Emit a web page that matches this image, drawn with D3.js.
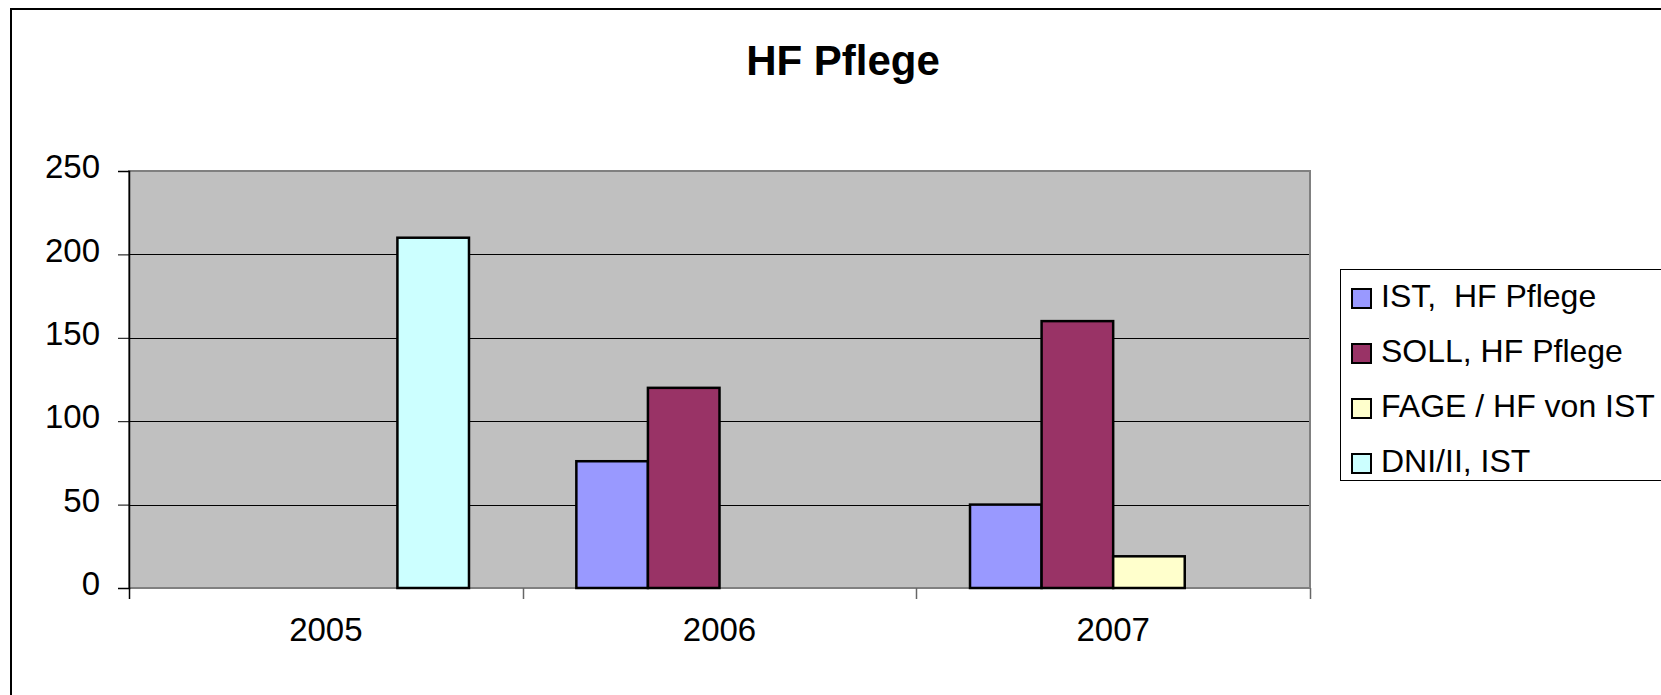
<!DOCTYPE html>
<html>
<head>
<meta charset="utf-8">
<script src="https://cdn.jsdelivr.net/npm/d3@7"></script>
<style>
  html, body { margin: 0; padding: 0; background: #fff; }
  svg { display: block; font-family: Arial, "Liberation Sans", sans-serif; }
</style>
</head>
<body>
<svg id="chart" width="1661" height="695"></svg>
<script>
// data
const years = ['2005', '2006', '2007'];
const seriesNames = ['IST,  HF Pflege', 'SOLL, HF Pflege', 'FAGE / HF von IST', 'DNI/II, IST'];
const seriesColors = ['#9999ff', '#993366', '#ffffcc', '#ccffff'];
const istValues = [0, 76, 50];
const sollValues = [0, 120, 160];
const fageValues = [0, 0, 19];
const dniValues = [210, 0, 0];
const yTicks = [0, 50, 100, 150, 200, 250];

const width = 1661;
const height = 695;
const plot = { left: 129, right: 1310, top: 171, bottom: 588 };
const labelSize = 33;

const rows = years.map((year, i) => ({
  year: year,
  values: [istValues[i], sollValues[i], fageValues[i], dniValues[i]]
}));

const svg = d3.select('#chart');

// outer chart frame (runs off the right and bottom edge)
svg.append('rect')
  .attr('x', 11)
  .attr('y', 9)
  .attr('width', width + 20)
  .attr('height', height + 20)
  .attr('fill', '#fff')
  .attr('stroke', '#000')
  .attr('stroke-width', 2);

// title
svg.append('text')
  .text('HF Pflege')
  .attr('x', 843)
  .attr('y', 75)
  .attr('text-anchor', 'middle')
  .attr('font-size', 42)
  .attr('font-weight', 'bold');

const x0 = d3.scaleBand()
  .domain(years)
  .range([plot.left, plot.right])
  .paddingInner(0);

// gap width 150% -> 0.75 step on each side
const x1 = d3.scaleBand()
  .domain(d3.range(seriesNames.length))
  .range([0, x0.bandwidth()])
  .paddingInner(0)
  .paddingOuter(0.75);

const yscale = d3.scaleLinear()
  .domain([0, 250])
  .range([plot.bottom, plot.top]);

// plot background
svg.append('rect')
  .attr('x', plot.left)
  .attr('y', plot.top)
  .attr('width', plot.right - plot.left)
  .attr('height', plot.bottom - plot.top)
  .attr('fill', '#c0c0c0');

// gridlines
svg.append('g')
  .selectAll('line')
  .data(yTicks.filter((d) => d > 0 && d < 250))
  .enter()
  .append('line')
  .attr('x1', plot.left)
  .attr('x2', plot.right)
  .attr('y1', (d) => Math.round(yscale(d)) + 0.5)
  .attr('y2', (d) => Math.round(yscale(d)) + 0.5)
  .attr('stroke', '#000')
  .attr('stroke-width', 1);

// plot border
svg.append('rect')
  .attr('x', plot.left)
  .attr('y', plot.top)
  .attr('width', plot.right - plot.left)
  .attr('height', plot.bottom - plot.top)
  .attr('fill', 'none')
  .attr('stroke', '#808080')
  .attr('stroke-width', 2);

// bars
svg.append('g')
  .selectAll('g')
  .data(rows)
  .enter()
  .append('g')
    .attr('transform', (d) => `translate(${x0(d.year)}, 0)`)
    .selectAll('rect')
    .data((d) => d.values.map((v, i) => ({ i: i, v: v })).filter((e) => e.v > 0))
    .enter().append('rect')
      .attr('x', (d) => x1(d.i))
      .attr('y', (d) => yscale(d.v))
      .attr('width', x1.bandwidth())
      .attr('height', (d) => yscale(0) - yscale(d.v))
      .attr('fill', (d) => seriesColors[d.i])
      .attr('stroke', '#000')
      .attr('stroke-width', 2.5);

// y axis
const leftAxis = d3.axisLeft(yscale)
  .tickValues(yTicks)
  .tickSize(11)
  .tickPadding(18);

const yAxisG = svg.append('g')
  .attr('transform', `translate(${plot.left}, 0)`)
  .call(leftAxis);

yAxisG.select('.domain').attr('stroke', '#000').attr('stroke-width', 1.5);
yAxisG.selectAll('.tick line').attr('stroke', '#000');
yAxisG.selectAll('.tick text')
  .attr('font-size', labelSize)
  .attr('font-family', 'Arial, "Liberation Sans", sans-serif')
  .attr('fill', '#000')
  .attr('dy', '0.2em');

// x axis: labels centred, ticks at category boundaries
const bottomAxis = d3.axisBottom(x0)
  .tickSize(0)
  .tickPadding(30);

const xAxisG = svg.append('g')
  .attr('transform', `translate(0, ${plot.bottom})`)
  .call(bottomAxis);

xAxisG.select('.domain').remove();
xAxisG.selectAll('.tick text')
  .attr('font-size', labelSize)
  .attr('font-family', 'Arial, "Liberation Sans", sans-serif')
  .attr('fill', '#000');

const boundaries = years.map((y) => x0(y)).concat([x0(years[years.length - 1]) + x0.step()]);

svg.append('g')
  .selectAll('line')
  .data(boundaries)
  .enter()
  .append('line')
  .attr('x1', (d) => Math.round(d) + 0.5)
  .attr('x2', (d) => Math.round(d) + 0.5)
  .attr('y1', plot.bottom)
  .attr('y2', plot.bottom + 11)
  .attr('stroke', (d, i) => (i === 0 ? '#000' : '#666'))
  .attr('stroke-width', 1.5);

// legend
const legend = svg.append('g');

legend.append('rect')
  .attr('x', 1340.5)
  .attr('y', 269.5)
  .attr('width', 340)
  .attr('height', 211)
  .attr('fill', '#fff')
  .attr('stroke', '#000')
  .attr('stroke-width', 1);

const items = legend.selectAll('g.item')
  .data(seriesNames)
  .enter()
  .append('g')
  .attr('class', 'item')
  .attr('transform', (d, i) => `translate(1352, ${307 + i * 55})`);

items.append('rect')
  .attr('x', 0)
  .attr('y', -18)
  .attr('width', 19)
  .attr('height', 19)
  .attr('fill', (d, i) => seriesColors[i])
  .attr('stroke', '#000')
  .attr('stroke-width', 2);

items.append('text')
  .text((d) => d)
  .attr('x', 29)
  .attr('y', 0)
  .attr('font-size', 32)
  .style('white-space', 'pre');
</script>
</body>
</html>
